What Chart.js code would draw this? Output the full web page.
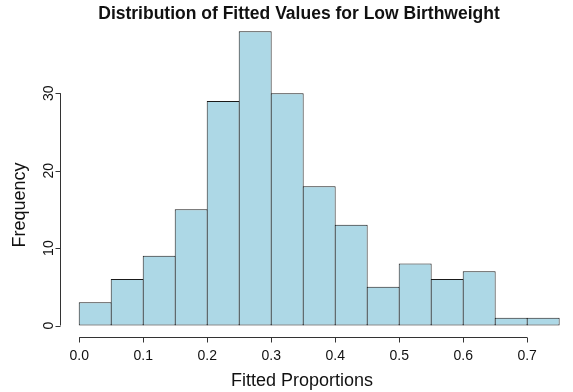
<!DOCTYPE html>
<html>
<head>
<meta charset="utf-8">
<script src="https://cdn.jsdelivr.net/npm/chart.js@4.4.1/dist/chart.umd.min.js"></script>
<style>
  body { margin: 0; background: #fff; }
  canvas { display: block; }
</style>
</head>
<body>
<canvas id="hist" width="573" height="392"></canvas>
<script>
// histogram bins (width 0.05) and their counts
const binMids = [0.025, 0.075, 0.125, 0.175, 0.225, 0.275, 0.325, 0.375, 0.425, 0.475, 0.525, 0.575, 0.625, 0.675, 0.725];
const counts = [3, 6, 9, 15, 29, 38, 30, 18, 13, 5, 8, 6, 7, 1, 1];
const xTicks = [0, 0.1, 0.2, 0.3, 0.4, 0.5, 0.6, 0.7];
const yTicks = [0, 10, 20, 30];

const title = 'Distribution of Fitted Values for Low Birthweight';
const xTitle = 'Fitted Proportions';
const yTitle = 'Frequency';

const axisColor = '#333';
const font = 'Liberation Sans, Arial, Helvetica, sans-serif';

// draws R-style axes (lines only span first..last tick), labels and title
const rAxes = {
    id: 'rAxes',
    afterDraw(chart) {
        const ctx = chart.ctx;
        const x = chart.scales.x, y = chart.scales.y;
        const area = chart.chartArea;
        ctx.save();
        ctx.strokeStyle = axisColor;
        ctx.lineWidth = 1;
        ctx.fillStyle = '#111';

        // x axis
        const ax = Math.round(area.bottom) + 0.5;
        ctx.beginPath();
        ctx.moveTo(x.getPixelForValue(xTicks[0]), ax);
        ctx.lineTo(x.getPixelForValue(xTicks[xTicks.length - 1]), ax);
        xTicks.forEach(t => {
            const px = Math.round(x.getPixelForValue(t)) + 0.5;
            ctx.moveTo(px, ax);
            ctx.lineTo(px, ax + 5);
        });
        ctx.stroke();
        ctx.font = '14px ' + font;
        ctx.textAlign = 'center';
        ctx.textBaseline = 'alphabetic';
        xTicks.forEach(t => {
            ctx.fillText(t.toFixed(1), x.getPixelForValue(t), 360);
        });

        // y axis
        const ay = Math.round(area.left) + 0.5;
        ctx.beginPath();
        ctx.moveTo(ay, y.getPixelForValue(yTicks[0]));
        ctx.lineTo(ay, y.getPixelForValue(yTicks[yTicks.length - 1]));
        yTicks.forEach(t => {
            const py = Math.round(y.getPixelForValue(t)) + 0.5;
            ctx.moveTo(ay, py);
            ctx.lineTo(ay - 5, py);
        });
        ctx.stroke();
        yTicks.forEach(t => {
            ctx.save();
            ctx.translate(53, y.getPixelForValue(t));
            ctx.rotate(-Math.PI / 2);
            ctx.fillText(String(t), 0, 0);
            ctx.restore();
        });

        // axis titles
        ctx.font = '18px ' + font;
        ctx.fillText(xTitle, 302, 386);
        ctx.save();
        ctx.translate(25, 205);
        ctx.rotate(-Math.PI / 2);
        ctx.fillText(yTitle, 0, 0);
        ctx.restore();

        // main title
        ctx.font = 'bold 17.5px ' + font;
        ctx.fillText(title, 299, 19);
        ctx.restore();
    }
};

const ctx = document.getElementById('hist').getContext('2d');
new Chart(ctx, {
    type: 'bar',
    data: {
        datasets: [{
            data: binMids.map((m, i) => ({ x: m, y: counts[i] })),
            backgroundColor: '#ADD8E6',
            borderColor: '#1a1a1a',
            borderWidth: 1,
            borderSkipped: false,
            // slightly wider than the bin so neighbouring borders overlap into one line
            barPercentage: 1.03,
            categoryPercentage: 1
        }]
    },
    options: {
        responsive: false,
        animation: false,
        devicePixelRatio: 1,
        layout: {
            padding: { left: 60, right: 0, top: 19.5, bottom: 54.7 }
        },
        plugins: {
            legend: { display: false },
            tooltip: { enabled: false }
        },
        scales: {
            x: {
                type: 'linear',
                display: false,
                offset: false,
                min: -0.03,
                max: 0.7716
            },
            y: {
                display: false,
                min: -1.52,
                max: 39.52
            }
        }
    },
    plugins: [rAxes]
});
</script>
</body>
</html>
